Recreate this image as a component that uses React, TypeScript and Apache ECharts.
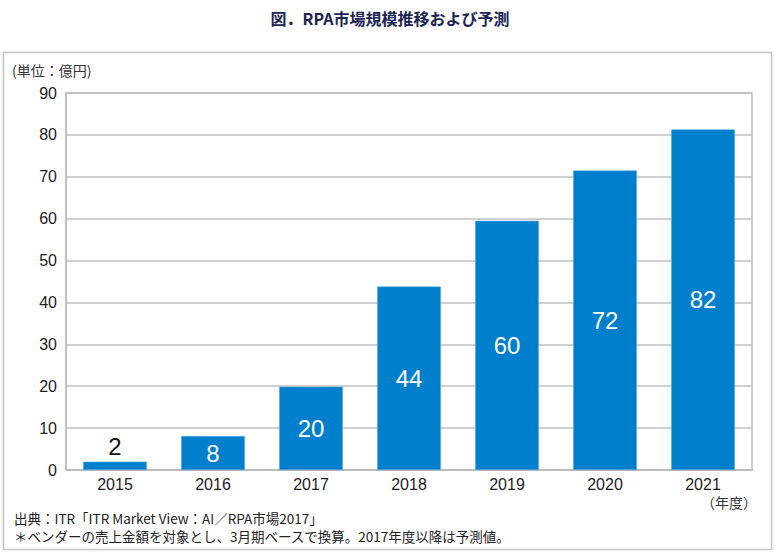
import React, { useEffect, useRef } from "react";
import * as echarts from "echarts";

const categories = ["2015", "2016", "2017", "2018", "2019", "2020", "2021"];
const marketSize = [2.0, 8.1, 19.9, 43.8, 59.5, 71.5, 81.3];
const labelValues = ["2", "8", "20", "44", "60", "72", "82"];
const yTicks = [0, 10, 20, 30, 40, 50, 60, 70, 80, 90];

const titleText = "図．RPA市場規模推移および予測";
const unitText = "(単位：億円)";
const yearUnitText = "（年度）";
const sourceText = "出典：ITR「ITR Market View：AI／RPA市場2017」";
const noteText = "＊ベンダーの売上金額を対象とし、3月期ベースで換算。2017年度以降は予測値。";

const JP = "'Noto Sans CJK JP', 'Liberation Sans', sans-serif";
const NUM = "'Liberation Sans', Arial, sans-serif";

export default function App() {
  const ref = useRef<HTMLDivElement>(null);
  useEffect(() => {
    if (!ref.current) return;
    const chart = echarts.init(ref.current, null, { renderer: "svg" });
    chart.setOption({
      animation: false,
      backgroundColor: "#ffffff",
      graphic: [
        {
          type: "rect",
          shape: { x: 3.5, y: 52.5, width: 768, height: 497 },
          style: { fill: "#ffffff", stroke: "#c8c8c8", lineWidth: 1.5, shadowBlur: 2, shadowColor: "rgba(0,0,0,0.12)" },
          z: -10,
        },
        {
          type: "text",
          x: 390,
          y: 18,
          style: { text: titleText, font: `bold 16px ${JP}`, fill: "#1c2453", align: "center", verticalAlign: "middle" },
        },
        {
          type: "text",
          x: 12,
          y: 70,
          style: { text: unitText, font: `14px ${JP}`, fill: "#333333", align: "left", verticalAlign: "middle" },
        },
        {
          type: "text",
          x: 757,
          y: 502,
          style: { text: yearUnitText, font: `14px ${JP}`, fill: "#333333", align: "right", verticalAlign: "middle" },
        },
        {
          type: "text",
          x: 14,
          y: 518,
          style: { text: sourceText, font: `13.5px ${JP}`, fill: "#222222", align: "left", verticalAlign: "middle" },
        },
        {
          type: "text",
          x: 14,
          y: 536,
          style: { text: noteText, font: `13.5px ${JP}`, fill: "#222222", align: "left", verticalAlign: "middle" },
        },
      ],
      grid: { left: 66, right: 28, top: 93, bottom: 90, show: true, borderColor: "#c0c0c0", borderWidth: 1.5 },
      xAxis: {
        type: "category",
        data: categories,
        axisLine: { show: true, lineStyle: { color: "#bdbdbd", width: 2 } },
        axisTick: { show: false },
        axisLabel: { color: "#222222", fontSize: 16, fontFamily: NUM, margin: 6 },
      },
      yAxis: {
        type: "value",
        min: yTicks[0],
        max: yTicks[yTicks.length - 1],
        interval: 10,
        axisLine: { show: true, lineStyle: { color: "#c0c0c0", width: 2 } },
        axisTick: { show: false },
        splitLine: { show: true, lineStyle: { color: "#c0c0c0", width: 1.5 } },
        axisLabel: { color: "#222222", fontSize: 16, fontFamily: NUM, margin: 9 },
      },
      series: [
        {
          type: "bar",
          data: marketSize.map((v, i) => ({
            value: v,
            label:
              i === 0
                ? { show: true, position: "top", color: "#111111", distance: 3 }
                : { show: true, position: "inside", color: "#ffffff" },
          })),
          barWidth: "65%",
          itemStyle: { color: "#0080cc", borderColor: "#5aa8dc", borderWidth: 0.6 },
          label: {
            show: true,
            fontSize: 24,
            fontFamily: NUM,
            formatter: (p: any) => labelValues[p.dataIndex],
          },
        },
      ],
    });
    return () => chart.dispose();
  }, []);
  return (
    <div
      ref={ref}
      style={{ position: "absolute", left: 0, top: 0, width: 780, height: 560 }}
    />
  );
}
